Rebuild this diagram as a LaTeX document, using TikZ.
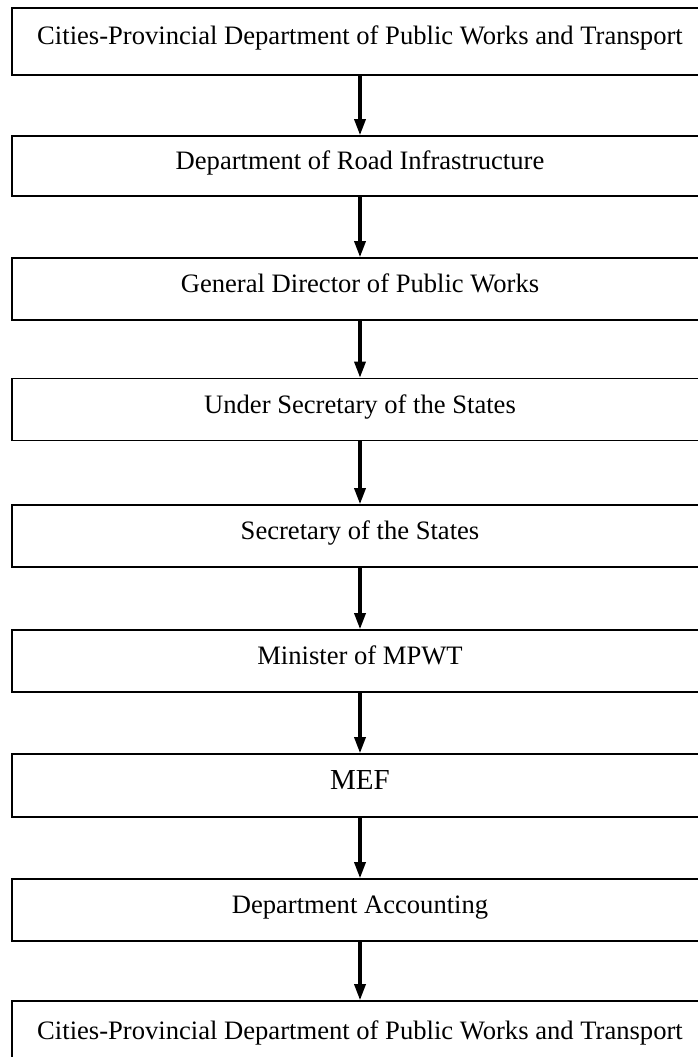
\documentclass[tikz,border=0pt]{standalone}
\usepackage{fontspec}
\setmainfont{Liberation Serif}
\usetikzlibrary{arrows.meta}
\begin{document}
\begin{tikzpicture}[x=1pt,y=-1pt,
  stepbox/.style={draw=black,line width=1.6pt,minimum width=696pt,inner sep=0pt,
    text height=18pt,text depth=11pt,font=\fontsize{26.6}{30}\selectfont},
  flow/.style={line width=3.2pt,-{Triangle[width=11pt,length=16pt]}}]
\useasboundingbox (0,0) rectangle (697,1057);
\node[stepbox,minimum height=67pt] (b1) at (360,41.5) {Cities-Provincial Department of Public Works and Transport};
\node[stepbox,minimum height=60pt] (b2) at (360,166) {Department of Road Infrastructure};
\node[stepbox,minimum height=62pt] (b3) at (360,289) {General Director of Public Works};
\node[stepbox,minimum height=62pt] (b4) at (360,409.5) {Under Secretary of the States};
\node[stepbox,minimum height=62pt] (b5) at (360,536) {Secretary of the States};
\node[stepbox,minimum height=62pt] (b6) at (360,661) {Minister of MPWT};
\node[stepbox,minimum height=63pt,font=\fontsize{29}{32}\selectfont] (b7) at (360,785.5) {MEF};
\node[stepbox,minimum height=62pt] (b8) at (360,910) {Department Accounting};
\node[stepbox,minimum height=70pt] (b9) at (360,1036) {Cities-Provincial Department of Public Works and Transport};
\foreach \a/\b in {b1/b2,b2/b3,b3/b4,b4/b5,b5/b6,b6/b7,b7/b8,b8/b9}
  \draw[flow] (\a.south) -- (\b.north);
\end{tikzpicture}
\end{document}
